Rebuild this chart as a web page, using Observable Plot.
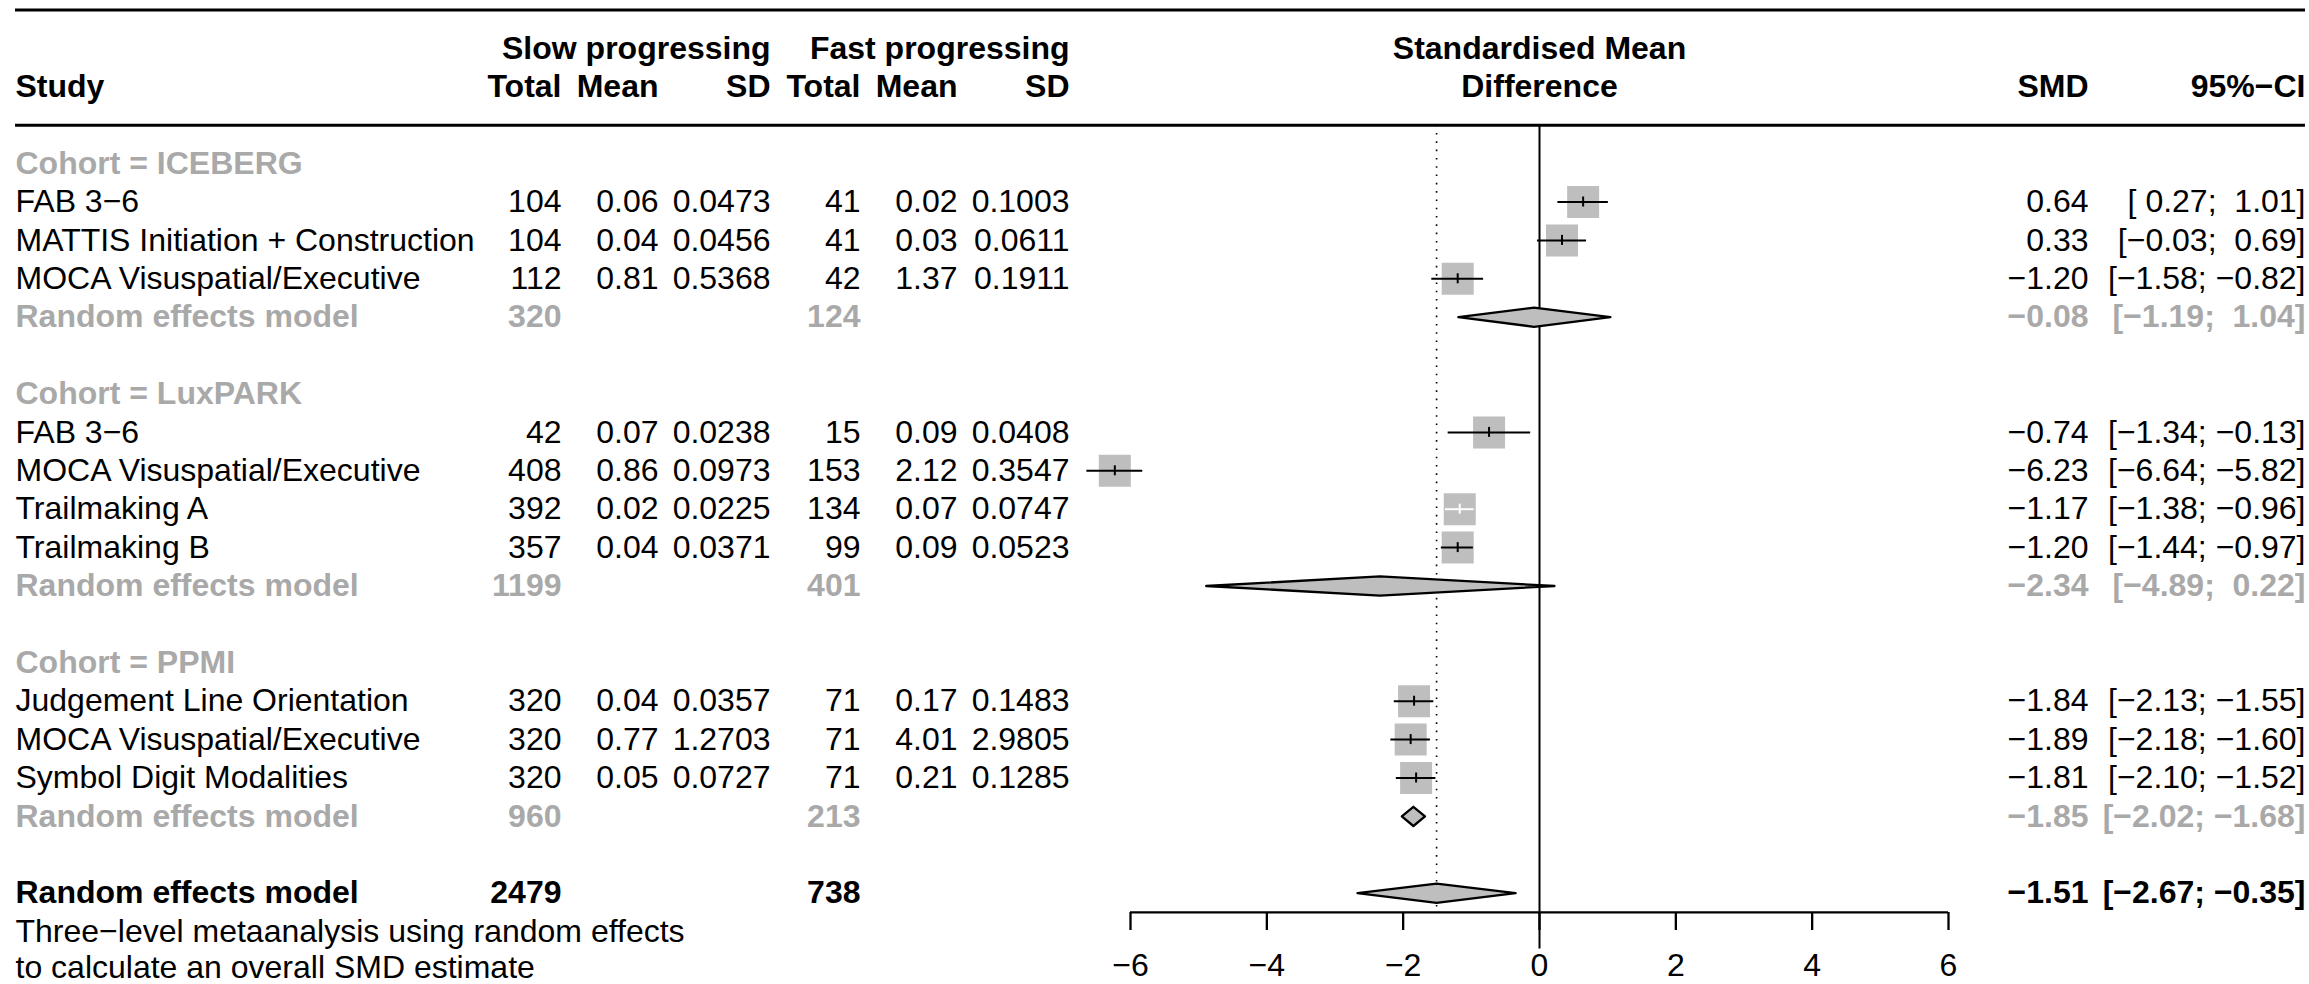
<!DOCTYPE html>
<html>
<head>
<meta charset="utf-8">
<script src="https://cdn.jsdelivr.net/npm/d3@7"></script>
<script src="https://cdn.jsdelivr.net/npm/@observablehq/plot@0.6"></script>
<style>
  html, body { margin: 0; padding: 0; background: #fff; }
  #chart svg { display: block; }
</style>
</head>
<body>
<div id="chart"></div>
<script>
// ---------------- data ----------------
const cohorts = ["ICEBERG", "LuxPARK", "PPMI"];
const studyNames = ["FAB 3\u22126", "MATTIS Initiation + Construction", "MOCA Visuspatial/Executive",
  "FAB 3\u22126", "MOCA Visuspatial/Executive", "Trailmaking A", "Trailmaking B",
  "Judgement Line Orientation", "MOCA Visuspatial/Executive", "Symbol Digit Modalities"];
const studyCohort = ["ICEBERG", "ICEBERG", "ICEBERG", "LuxPARK", "LuxPARK", "LuxPARK", "LuxPARK", "PPMI", "PPMI", "PPMI"];
const slowTotal = [104, 104, 112, 42, 408, 392, 357, 320, 320, 320];
const slowMean = [0.06, 0.04, 0.81, 0.07, 0.86, 0.02, 0.04, 0.04, 0.77, 0.05];
const slowSD = [0.0473, 0.0456, 0.5368, 0.0238, 0.0973, 0.0225, 0.0371, 0.0357, 1.2703, 0.0727];
const fastTotal = [41, 41, 42, 15, 153, 134, 99, 71, 71, 71];
const fastMean = [0.02, 0.03, 1.37, 0.09, 2.12, 0.07, 0.09, 0.17, 4.01, 0.21];
const fastSD = [0.1003, 0.0611, 0.1911, 0.0408, 0.3547, 0.0747, 0.0523, 0.1483, 2.9805, 0.1285];
const smd = [0.64, 0.33, -1.20, -0.74, -6.23, -1.17, -1.20, -1.84, -1.89, -1.81];
const ciLow = [0.27, -0.03, -1.58, -1.34, -6.64, -1.38, -1.44, -2.13, -2.18, -2.10];
const ciHigh = [1.01, 0.69, -0.82, -0.13, -5.82, -0.96, -0.97, -1.55, -1.60, -1.52];

const subSlowTotal = [320, 1199, 960];
const subFastTotal = [124, 401, 213];
const subSmd = [-0.08, -2.34, -1.85];
const subLow = [-1.19, -4.89, -2.02];
const subHigh = [1.04, 0.22, -1.68];

const overallSlowTotal = 2479;
const overallFastTotal = 738;
const overallSmd = -1.51;
const overallLow = -2.67;
const overallHigh = -0.35;

const axisTicks = [-6, -4, -2, 0, 2, 4, 6];
const captionLines = ["Three\u2212level metaanalysis using random effects", "to calculate an overall SMD estimate"];
const modelLabel = "Random effects model";

// ---------------- build table rows ----------------
const fmt2 = d3.format(".2f"), fmt4 = d3.format(".4f");
const pad = v => (v >= 0 ? "\u00a0" : "") + fmt2(v);
const ciText = (lo, hi) => `[${pad(lo)};\u00a0${pad(hi)}]`;

const cohortRows = [], studyRows = [], subRows = [];
let r = 0;
cohorts.forEach((c, k) => {
  cohortRows.push({row: r++, label: "Cohort = " + c});
  studyNames.forEach((name, i) => {
    if (studyCohort[i] !== c) return;
    studyRows.push({
      row: r++, name,
      sT: String(slowTotal[i]), sM: fmt2(slowMean[i]), sS: fmt4(slowSD[i]),
      fT: String(fastTotal[i]), fM: fmt2(fastMean[i]), fS: fmt4(fastSD[i]),
      smd: smd[i], lo: ciLow[i], hi: ciHigh[i],
      smdText: fmt2(smd[i]), ciText: ciText(ciLow[i], ciHigh[i])
    });
  });
  subRows.push({row: r++, name: modelLabel, sT: String(subSlowTotal[k]), fT: String(subFastTotal[k]),
    smd: subSmd[k], lo: subLow[k], hi: subHigh[k], smdText: fmt2(subSmd[k]), ciText: ciText(subLow[k], subHigh[k])});
  r++; // blank row
});
const overallRows = [{row: r, name: modelLabel, sT: String(overallSlowTotal), fT: String(overallFastTotal),
  smd: overallSmd, lo: overallLow, hi: overallHigh, smdText: fmt2(overallSmd), ciText: ciText(overallLow, overallHigh)}];
const captionRows = captionLines.map((t, i) => ({row: r + 1 + i * 0.95, text: t}));

// diamonds
const diamondH = 0.25;
const diamondPts = [...subRows, ...overallRows].flatMap((d, id) => [
  {id, x: d.lo, y: d.row}, {id, x: d.smd, y: d.row - diamondH},
  {id, x: d.hi, y: d.row}, {id, x: d.smd, y: d.row + diamondH}
]);

// square half width in data units -> white CI line if the CI lies inside the box
const boxSide = 32;
const xRange = [1130, 1948];
const unitPx = (xRange[1] - xRange[0]) / (axisTicks[axisTicks.length - 1] - axisTicks[0]);
const halfBox = boxSide / 2 / unitPx;
const inside = d => (d.smd - d.lo) < halfBox && (d.hi - d.smd) < halfBox;

// ---------------- layout ----------------
const L = 15;
const colX = {study: 15, sT: 561, sM: 658, sS: 770, fT: 860, fM: 957, fS: 1069, smd: 2088, ci: 2305};
const gray = "#a9a9a9";
const FS = 32;
function txt(data, text, px, anchor, extra = {}) {
  return Plot.text(data, {y: "row", text, frameAnchor: "left", dx: px - L, textAnchor: anchor, fontSize: FS, ...extra});
}
const headerRow1 = [{row: -3}], headerRow2 = [{row: -2}];
const bold = {fontWeight: "bold"};

const chart = Plot.plot({
  width: 2309, height: 984,
  marginLeft: L, marginRight: 4, marginTop: 0, marginBottom: 72,
  x: {domain: [axisTicks[0], axisTicks[axisTicks.length - 1]], range: xRange},
  y: {domain: [-4, 21], range: [9.5, 969.5], axis: null},
  style: {fontFamily: "'Liberation Sans', Arial, Helvetica, sans-serif", fontSize: "32px", background: "white", color: "black"},
  marks: [
    // horizontal header lines
    Plot.ruleY([-4, -1], {stroke: "black", strokeWidth: 3}),
    // reference lines
    Plot.ruleX([0], {y1: -1, y2: 20.45, stroke: "black", strokeWidth: 2}),
    Plot.ruleX([overallSmd], {y1: -1, y2: 19.5, stroke: "black", strokeWidth: 1.6, strokeDasharray: "1.6,6.7"}),
    // axis
    Plot.ruleY([19.5], {x1: axisTicks[0], x2: axisTicks[axisTicks.length - 1], stroke: "black", strokeWidth: 2.3}),
    Plot.axisX({anchor: "bottom", ticks: axisTicks, tickFormat: d3.format("d"), tickSize: 18, tickPadding: 23,
      fontSize: FS, strokeWidth: 2.3, label: null}),
    // squares
    Plot.dot(studyRows, {x: "smd", y: "row", symbol: "square", r: boxSide / Math.sqrt(Math.PI), fill: "#bebebe", stroke: null}),
    // CI lines + estimate ticks
    Plot.ruleY(studyRows.filter(d => !inside(d)), {y: "row", x1: "lo", x2: "hi", stroke: "black", strokeWidth: 2}),
    Plot.ruleY(studyRows.filter(inside), {y: "row", x1: "lo", x2: "hi", stroke: "white", strokeWidth: 2}),
    Plot.ruleX(studyRows.filter(d => !inside(d)), {x: "smd", y1: d => d.row - 0.13, y2: d => d.row + 0.13, stroke: "black", strokeWidth: 2}),
    Plot.ruleX(studyRows.filter(inside), {x: "smd", y1: d => d.row - 0.13, y2: d => d.row + 0.13, stroke: "white", strokeWidth: 2}),
    // diamonds
    Plot.line(diamondPts, {x: "x", y: "y", z: "id", curve: "linear-closed", fill: "#bebebe", stroke: "black", strokeWidth: 2.3}),

    // header texts
    txt(headerRow1, () => "Slow progressing", colX.sS, "end", bold),
    txt(headerRow1, () => "Fast progressing", colX.fS, "end", bold),
    Plot.text(headerRow1, {x: () => 0, y: "row", text: () => "Standardised Mean", fontSize: FS, fontWeight: "bold"}),
    txt(headerRow2, () => "Study", colX.study, "start", bold),
    txt(headerRow2, () => "Total", colX.sT, "end", bold),
    txt(headerRow2, () => "Mean", colX.sM, "end", bold),
    txt(headerRow2, () => "SD", colX.sS, "end", bold),
    txt(headerRow2, () => "Total", colX.fT, "end", bold),
    txt(headerRow2, () => "Mean", colX.fM, "end", bold),
    txt(headerRow2, () => "SD", colX.fS, "end", bold),
    Plot.text(headerRow2, {x: () => 0, y: "row", text: () => "Difference", fontSize: FS, fontWeight: "bold"}),
    txt(headerRow2, () => "SMD", colX.smd, "end", bold),
    txt(headerRow2, () => "95%\u2212CI", colX.ci, "end", bold),

    // cohort labels
    txt(cohortRows, "label", colX.study, "start", {fill: gray, fontWeight: "bold"}),

    // study rows
    txt(studyRows, "name", colX.study, "start"),
    txt(studyRows, "sT", colX.sT, "end"),
    txt(studyRows, "sM", colX.sM, "end"),
    txt(studyRows, "sS", colX.sS, "end"),
    txt(studyRows, "fT", colX.fT, "end"),
    txt(studyRows, "fM", colX.fM, "end"),
    txt(studyRows, "fS", colX.fS, "end"),
    txt(studyRows, "smdText", colX.smd, "end"),
    txt(studyRows, "ciText", colX.ci, "end"),

    // subgroup rows
    txt(subRows, "name", colX.study, "start", {fill: gray, fontWeight: "bold"}),
    txt(subRows, "sT", colX.sT, "end", {fill: gray, fontWeight: "bold"}),
    txt(subRows, "fT", colX.fT, "end", {fill: gray, fontWeight: "bold"}),
    txt(subRows, "smdText", colX.smd, "end", {fill: gray, fontWeight: "bold"}),
    txt(subRows, "ciText", colX.ci, "end", {fill: gray, fontWeight: "bold"}),

    // overall
    txt(overallRows, "name", colX.study, "start", bold),
    txt(overallRows, "sT", colX.sT, "end", bold),
    txt(overallRows, "fT", colX.fT, "end", bold),
    txt(overallRows, "smdText", colX.smd, "end", bold),
    txt(overallRows, "ciText", colX.ci, "end", bold),

    // caption
    txt(captionRows, "text", colX.study, "start")
  ]
});
document.getElementById("chart").appendChild(chart);
</script>
</body>
</html>
